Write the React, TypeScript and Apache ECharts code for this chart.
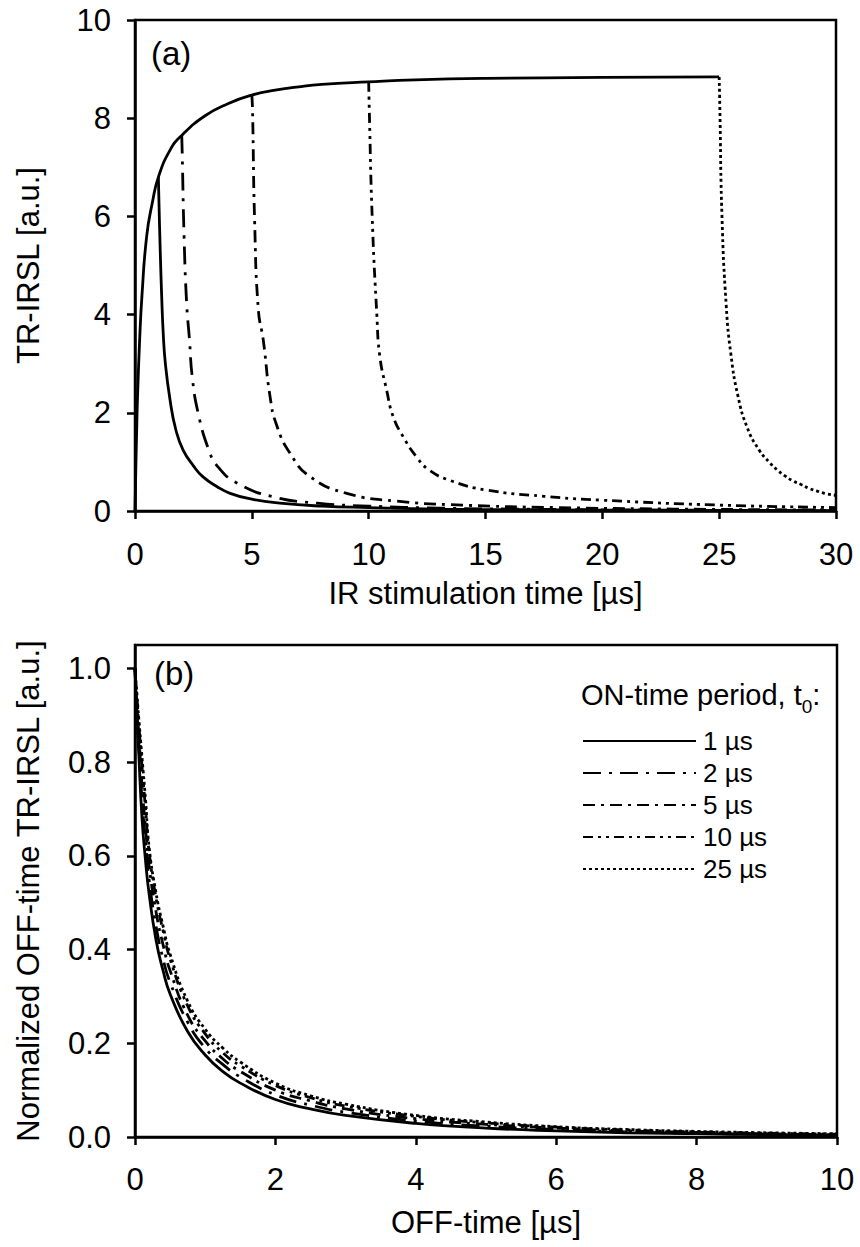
import React, { useEffect, useRef } from "react";
import * as echarts from "echarts";

const FONT = "'Liberation Sans', Arial, Helvetica, sans-serif";

// ---- Panel (a): IR stimulation time [µs] vs TR-IRSL [a.u.] ----
const ON_T = [0, 0.02, 0.05, 0.07, 0.1, 0.2, 0.3, 0.5, 0.75, 1, 1.5, 2, 3, 4, 5, 6, 7, 8, 10, 12, 15, 20, 25];
const ON_Y = [0, 0.5, 1.2, 1.6, 2.2, 3.5, 4.4, 5.6, 6.3, 6.8, 7.35, 7.65, 8.05, 8.3, 8.47, 8.57, 8.64, 8.69, 8.74, 8.78, 8.81, 8.83, 8.84];

const A1_T = [1, 1.03, 1.08, 1.14, 1.21, 1.3, 1.5, 1.75, 2.06, 2.5, 2.9, 3.5, 4.07, 5, 6.2, 8, 10, 13, 17, 22, 30];
const A1_Y = [6.8, 6.2, 5.3, 4.4, 3.6, 3.0, 2.26, 1.65, 1.24, 0.92, 0.7, 0.5, 0.36, 0.24, 0.16, 0.1, 0.07, 0.04, 0.025, 0.015, 0.008];

const A2_T = [2, 2.02, 2.1, 2.21, 2.33, 2.45, 2.7, 3.16, 3.55, 4.36, 5.9, 7.8, 10, 13, 17, 22, 30];
const A2_Y = [7.65, 7.3, 5.6, 4.23, 3.5, 2.73, 2.0, 1.24, 0.9, 0.57, 0.29, 0.16, 0.1, 0.06, 0.035, 0.02, 0.01];

const A5_T = [5, 5.03, 5.12, 5.28, 5.49, 5.78, 6.06, 6.63, 7.49, 9.06, 11.2, 14, 18, 23, 30];
const A5_Y = [8.47, 8.17, 5.9, 4.09, 3.48, 2.33, 1.75, 1.18, 0.7, 0.36, 0.2, 0.12, 0.07, 0.04, 0.02];

const A10_T = [10, 10.03, 10.15, 10.35, 10.48, 10.77, 11.05, 11.48, 12.05, 12.6, 13.5, 15, 17.5, 20, 25, 30];
const A10_Y = [8.74, 8.1, 6.0, 4.0, 3.14, 2.46, 1.92, 1.51, 1.1, 0.83, 0.62, 0.43, 0.3, 0.22, 0.12, 0.07];

const A25_T = [25, 25.03, 25.12, 25.3, 25.5, 25.8, 26.2, 26.7, 27.17, 27.5, 27.8, 28.17, 28.5, 28.85, 29.17, 29.5, 30];
const A25_Y = [8.84, 8.2, 6.0, 4.2, 3.2, 2.35, 1.7, 1.25, 0.98, 0.83, 0.72, 0.61, 0.54, 0.46, 0.41, 0.36, 0.32];

// ---- Panel (b): OFF-time [µs] vs normalized OFF-time TR-IRSL ----
const OFF_T = [0, 0.02, 0.05, 0.1, 0.15, 0.2, 0.3, 0.4, 0.5, 0.75, 1, 1.25, 1.5, 2, 2.5, 3, 4, 5, 6, 7, 8, 9, 10];
const N1 = [1, 0.92, 0.83, 0.68, 0.59, 0.52, 0.42, 0.355, 0.305, 0.225, 0.175, 0.14, 0.115, 0.08, 0.06, 0.046, 0.029, 0.019, 0.013, 0.009, 0.007, 0.005, 0.004];
const N2 = [1, 0.93, 0.85, 0.72, 0.63, 0.55, 0.45, 0.38, 0.33, 0.245, 0.19, 0.155, 0.128, 0.09, 0.068, 0.053, 0.034, 0.023, 0.016, 0.011, 0.008, 0.006, 0.0045];
const N5 = [1, 0.94, 0.87, 0.75, 0.66, 0.58, 0.48, 0.41, 0.355, 0.26, 0.205, 0.167, 0.14, 0.1, 0.077, 0.06, 0.039, 0.027, 0.019, 0.013, 0.01, 0.007, 0.005];
const N10 = [1, 0.955, 0.89, 0.79, 0.7, 0.61, 0.51, 0.44, 0.38, 0.28, 0.22, 0.18, 0.152, 0.11, 0.084, 0.066, 0.044, 0.03, 0.021, 0.015, 0.011, 0.008, 0.006];
const N25 = [1, 0.96, 0.9, 0.81, 0.72, 0.62, 0.52, 0.45, 0.39, 0.29, 0.23, 0.19, 0.16, 0.115, 0.088, 0.07, 0.046, 0.032, 0.022, 0.016, 0.012, 0.009, 0.007];

const LEGEND_NAMES = ["1 µs", "2 µs", "5 µs", "10 µs", "25 µs"];
const X_TICKS_A = [0, 5, 10, 15, 20, 25, 30];
const Y_TICKS_A = [0, 2, 4, 6, 8, 10];
const X_TICKS_B = [0, 2, 4, 6, 8, 10];
const Y_TICKS_B = [0, 0.2, 0.4, 0.6, 0.8, 1.0];

const zip = (xs: number[], ys: number[]) => xs.map((x, i) => [x, ys[i]]);

const DASHES: Record<string, any> = {
  "1 µs": "solid",
  "2 µs": [18, 8, 3, 8],
  "5 µs": [12, 6, 3, 6],
  "10 µs": [10, 5, 3, 5, 3, 5],
  "25 µs": [3, 3],
};

export default function App() {
  const ref = useRef<HTMLDivElement>(null);
  useEffect(() => {
    document.body.style.margin = "0";
    const chart = echarts.init(ref.current!, null, { renderer: "svg" });
    const axisCommon = {
      axisLine: { show: true, onZero: false, lineStyle: { color: "#000", width: 2.5 } },
      axisTick: { show: true, inside: false, length: 8, lineStyle: { color: "#000", width: 2.5 } },
      splitLine: { show: false },
      nameTextStyle: { color: "#000", fontSize: 31, fontFamily: FONT },
    };
    const labelStyle = { color: "#000", fontSize: 31, fontFamily: FONT };
    const line = (name: string, data: number[][], xi: number, dash: any, width = 2.8) => ({
      type: "line",
      name,
      xAxisIndex: xi,
      yAxisIndex: xi,
      data,
      symbol: "none",
      showSymbol: false,
      smooth: 0.5,
      lineStyle: { color: "#000", width, type: dash },
      itemStyle: { color: "#000" },
      z: 3,
    });
    chart.setOption({
      animation: false,
      backgroundColor: "#fff",
      textStyle: { fontFamily: FONT },
      grid: [
        { left: 135, right: 24, top: 20, height: 491, show: true, borderColor: "#000", borderWidth: 2.5, backgroundColor: "transparent" },
        { left: 135, right: 23, top: 645, height: 492, show: true, borderColor: "#000", borderWidth: 2.5, backgroundColor: "transparent" },
      ],
      xAxis: [
        {
          ...axisCommon,
          type: "value",
          gridIndex: 0,
          min: 0,
          max: 30,
          name: "IR stimulation time [µs]",
          nameLocation: "middle",
          nameGap: 67,
          axisTick: { ...axisCommon.axisTick, customValues: X_TICKS_A },
          axisLabel: { ...labelStyle, margin: 28, customValues: X_TICKS_A },
        },
        {
          ...axisCommon,
          type: "value",
          gridIndex: 1,
          min: 0,
          max: 10,
          name: "OFF-time [µs]",
          nameLocation: "middle",
          nameGap: 70,
          axisTick: { ...axisCommon.axisTick, customValues: X_TICKS_B },
          axisLabel: { ...labelStyle, margin: 27, customValues: X_TICKS_B },
        },
      ],
      yAxis: [
        {
          ...axisCommon,
          type: "value",
          gridIndex: 0,
          min: 0,
          max: 10,
          name: "TR-IRSL [a.u.]",
          nameLocation: "middle",
          nameGap: 91,
          axisTick: { ...axisCommon.axisTick, customValues: Y_TICKS_A },
          axisLabel: { ...labelStyle, margin: 24, customValues: Y_TICKS_A },
        },
        {
          ...axisCommon,
          type: "value",
          gridIndex: 1,
          min: 0,
          max: 1.05,
          name: "Normalized OFF-time TR-IRSL [a.u.]",
          nameLocation: "middle",
          nameGap: 91,
          axisTick: { ...axisCommon.axisTick, customValues: Y_TICKS_B },
          axisLabel: {
            ...labelStyle,
            margin: 24,
            customValues: Y_TICKS_B,
            formatter: (v: number) => v.toFixed(1),
          },
        },
      ],
      legend: {
        data: LEGEND_NAMES,
        orient: "vertical",
        left: 577,
        top: 723,
        itemWidth: 113,
        itemHeight: 24,
        itemGap: 6,
        selectedMode: false,
        itemStyle: { opacity: 0 },
        textStyle: { color: "#000", fontSize: 26, fontFamily: FONT, lineHeight: 24, padding: [0, 0, 0, 2] },
      },
      graphic: [
        { type: "text", left: 151, top: 37, style: { text: "(a)", fontSize: 33, fontFamily: FONT, fill: "#000" } },
        { type: "text", left: 154, top: 657, style: { text: "(b)", fontSize: 33, fontFamily: FONT, fill: "#000" } },
        {
          type: "text",
          left: 581,
          top: 680,
          style: {
            text: "{a|ON-time period, t}{s|0}{a|:}",
            fill: "#000",
            rich: {
              a: { fontSize: 29, fontFamily: FONT, fill: "#000", lineHeight: 34, verticalAlign: "bottom" },
              s: { fontSize: 19, fontFamily: FONT, fill: "#000", lineHeight: 34, verticalAlign: "bottom", padding: [0, 0, -7, 0] },
            },
          },
        },
      ],
      series: [
        line("on", zip(ON_T, ON_Y), 0, "solid"),
        line("a1", zip(A1_T, A1_Y), 0, DASHES["1 µs"]),
        line("a2", zip(A2_T, A2_Y), 0, DASHES["2 µs"]),
        line("a5", zip(A5_T, A5_Y), 0, DASHES["5 µs"]),
        line("a10", zip(A10_T, A10_Y), 0, DASHES["10 µs"]),
        line("a25", zip(A25_T, A25_Y), 0, DASHES["25 µs"]),
        line("25 µs", zip(OFF_T, N25), 1, DASHES["25 µs"]),
        line("10 µs", zip(OFF_T, N10), 1, DASHES["10 µs"]),
        line("5 µs", zip(OFF_T, N5), 1, DASHES["5 µs"]),
        line("2 µs", zip(OFF_T, N2), 1, DASHES["2 µs"]),
        line("1 µs", zip(OFF_T, N1), 1, DASHES["1 µs"]),
      ],
    });
    return () => chart.dispose();
  }, []);
  return <div ref={ref} style={{ width: 860, height: 1247, background: "#fff" }} />;
}
